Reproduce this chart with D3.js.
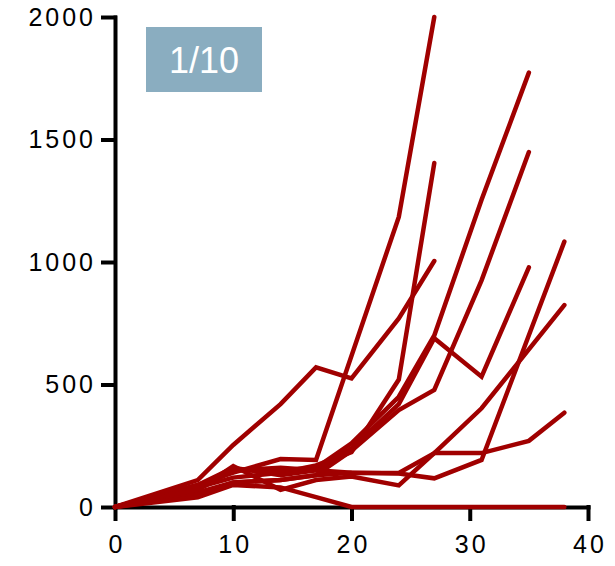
<!DOCTYPE html>
<html>
<head>
<meta charset="utf-8">
<script src="https://cdn.jsdelivr.net/npm/d3@7"></script>
<style>
  html, body { margin: 0; padding: 0; background: #fff; }
  svg { display: block; }
</style>
</head>
<body>
<svg id="chart" width="615" height="566"></svg>
<script>
// ---- data ----
const days = [0, 7, 10, 14, 17, 20, 24, 27, 31, 35, 38];
const mouseA = [0, 90, 140, 196, 192, null, 1184, 2000, null, null, null];
const mouseB = [0, 110, 253, 420, 570, 525, 770, 1004, null, null, null];
const mouseC = [0, 80, 120, 140, 170, 224, 520, 1404, null, null, null];
const mouseD = [0, 70, 150, 150, 160, 260, 450, 700, 1254, 1773, null];
const mouseE = [0, 60, 100, 110, 130, 230, 396, 478, 925, 1449, null];
const mouseF = [0, 90, 160, 130, 150, 240, 420, 689, 532, 978, null];
const mouseG = [0, 80, 150, 160, 150, 140, 139, 220, 403, null, 824];
const mouseH = [0, 70, 167, 70, 110, 124, 88, 220, 220, 270, 385];
const mouseI = [0, 50, 100, 110, 130, 140, 137, 117, 192, null, 1083];
const mouseJ = [0, 40, 90, 80, 40, 0, 0, 0, 0, 0, 0];
const seriesList = [mouseA, mouseB, mouseC, mouseD, mouseE, mouseF, mouseG, mouseH, mouseI, mouseJ];
const xTicks = [0, 10, 20, 30, 40];
const yTicks = [0, 500, 1000, 1500, 2000];
const label = "1/10";

// ---- chart ----
const svg = d3.select("#chart");
const x = d3.scaleLinear().domain([0, 40]).range([115, 588]);
const y = d3.scaleLinear().domain([0, 2000]).range([507, 17]);

const tickFont = "'Liberation Sans', Arial, sans-serif";

const yAxis = svg.append("g")
  .attr("transform", `translate(${x(0)},0)`)
  .call(d3.axisLeft(y).tickValues(yTicks).tickFormat(d3.format("d")).tickSize(12).tickSizeOuter(0).tickPadding(10));
const xAxis = svg.append("g")
  .attr("transform", `translate(0,${y(0)})`)
  .call(d3.axisBottom(x).tickValues(xTicks).tickFormat(d3.format("d")).tickSize(12).tickSizeOuter(0).tickPadding(16));

[xAxis, yAxis].forEach(g => {
  g.select(".domain").attr("stroke", "#000").attr("stroke-width", 4).attr("stroke-linecap", "square");
  g.selectAll(".tick line").attr("stroke", "#000").attr("stroke-width", 4).attr("stroke-linecap", "square");
  g.selectAll(".tick text")
    .attr("fill", "#000")
    .style("font-family", tickFont)
    .style("font-size", "25px")
    .style("letter-spacing", "3px");
});
yAxis.selectAll(".tick text").attr("dx", "3px");
xAxis.selectAll(".tick text").attr("dx", "1.5px");

const line = d3.line()
  .defined(d => d[1] !== null)
  .x(d => x(d[0]))
  .y(d => y(d[1]));

svg.append("g").selectAll("path")
  .data(seriesList)
  .join("path")
  .attr("d", s => line(days.map((d, i) => [d, s[i]]).filter(p => p[1] !== null)))
  .attr("fill", "none")
  .attr("stroke", "#a00000")
  .attr("stroke-width", 4.5)
  .attr("stroke-linejoin", "miter")
  .attr("stroke-linecap", "round");

// label box
svg.append("rect")
  .attr("x", 146).attr("y", 27).attr("width", 116).attr("height", 65)
  .attr("fill", "#8aadc0");
svg.append("text")
  .attr("x", 204).attr("y", 72.5)
  .attr("text-anchor", "middle")
  .attr("fill", "#fff")
  .style("font-family", tickFont)
  .style("font-size", "36px")
  .text(label);
</script>
</body>
</html>
